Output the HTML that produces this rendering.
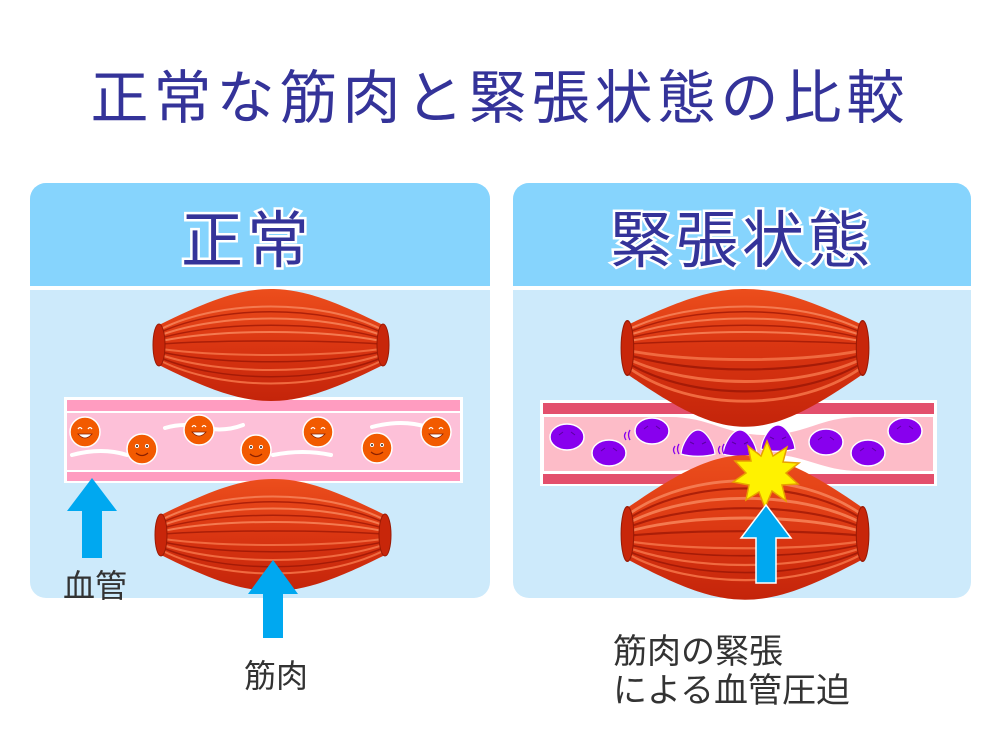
<!DOCTYPE html>
<html><head><meta charset="utf-8"><style>
html,body{margin:0;padding:0;background:#fff;}
svg{display:block;}
text{font-family:"Liberation Sans","Noto Sans CJK JP",sans-serif;}
</style></head><body>
<svg width="1000" height="750" viewBox="0 0 1000 750" xmlns="http://www.w3.org/2000/svg">
<defs>
  <linearGradient id="gu" x1="0" y1="0" x2="0" y2="1">
    <stop offset="0" stop-color="#ec4e1c"/>
    <stop offset="1" stop-color="#da3612"/>
  </linearGradient>
  <linearGradient id="gl" x1="0" y1="0" x2="0" y2="1">
    <stop offset="0" stop-color="#da3612"/>
    <stop offset="1" stop-color="#c4240a"/>
  </linearGradient>
  <g id="mup">
    <path d="M-112,-20 C-60,-46 -30,-56 0,-56 C30,-56 60,-46 112,-20 L112,0.5 L-112,0.5 Z" fill="url(#gu)"/>
    <g fill="none" stroke="#f47a50" stroke-width="2">
      <path d="M-110,-16 C-50,-46 50,-46 110,-16"/>
      <path d="M-110,-10 C-50,-32 50,-32 110,-10"/>
      <path d="M-110,-4 C-50,-16 50,-16 110,-4"/>
    </g>
    <g fill="none" stroke="#a01806" stroke-width="1.5" opacity="0.8">
      <path d="M-110,-13 C-50,-40 50,-40 110,-13"/>
      <path d="M-110,-7 C-50,-24 50,-24 110,-7"/>
      <path d="M-110,-1 C-50,-5 50,-5 110,-1"/>
    </g>
  </g>
  <g id="mlo">
    <path d="M-112,20 C-60,46 -30,56 0,56 C30,56 60,46 112,20 L112,-0.5 L-112,-0.5 Z" fill="url(#gl)"/>
    <g fill="none" stroke="#f06a40" stroke-width="2">
      <path d="M-110,16 C-50,46 50,46 110,16"/>
      <path d="M-110,10 C-50,30 50,30 110,10"/>
      <path d="M-110,4 C-50,12 50,12 110,4"/>
    </g>
    <g fill="none" stroke="#9a1606" stroke-width="1.5" opacity="0.8">
      <path d="M-110,13 C-50,38 50,38 110,13"/>
      <path d="M-110,7 C-50,20 50,20 110,7"/>
    </g>
  </g>
  <g id="caps">
    <ellipse cx="-112" cy="0" rx="6" ry="21" fill="#c8260a" stroke="#9a1a05"/>
    <ellipse cx="112" cy="0" rx="6" ry="21" fill="#c8260a" stroke="#9a1a05"/>
  </g>
  <g id="face">
    <circle r="15" fill="#f25a00" stroke="#fff" stroke-width="1.5"/>
    <path d="M-7,-3 q2,-3 4,0 M3,-3 q2,-3 4,0" stroke="#fff" fill="none" stroke-width="1.3"/>
    <path d="M-7,2 q7,8 14,0 z" fill="#fff" stroke="#8a2000" stroke-width="0.8"/>
  </g>
  <g id="face2">
    <circle r="15" fill="#f25a00" stroke="#fff" stroke-width="1.5"/>
    <circle cx="-5" cy="-3" r="2" fill="#fff"/><circle cx="5" cy="-3" r="2" fill="#fff"/>
    <circle cx="-5" cy="-3" r="1" fill="#222"/><circle cx="5" cy="-3" r="1" fill="#222"/>
    <path d="M-6,4 q6,5 12,0" stroke="#8a2000" fill="none" stroke-width="1.2"/>
  </g>
  <g id="cell">
    <ellipse rx="17" ry="13" fill="#8800ee" stroke="#fff" stroke-width="1.5"/>
    <path d="M-8,-2 l4,-3 M4,-5 l4,3" stroke="#5a00a0" stroke-width="1"/>
  </g>
  <g id="dome">
    <path d="M-17,10 C-16,0 -8,-14 0,-14 C8,-14 16,0 17,10 C8,13 -8,13 -17,10 Z" fill="#8800ee" stroke="#fff" stroke-width="1.2"/>
    <path d="M-8,-2 l4,2 M4,0 l4,-2" stroke="#5a00a0" stroke-width="1"/>
  </g>
</defs>

<text x="500" y="118" text-anchor="middle" font-size="58" fill="#343399" letter-spacing="5">正常な筋肉と緊張状態の比較</text>

<rect x="30" y="183" width="460" height="415" rx="16" fill="#cdeafb"/>
<path d="M30,199 a16,16 0 0 1 16,-16 h428 a16,16 0 0 1 16,16 v87 h-460z" fill="#86d4fd"/>
<rect x="30" y="286" width="460" height="4" fill="#fff"/>
<text x="247" y="262" text-anchor="middle" font-size="62" fill="#343399" stroke="#fff" stroke-width="5" paint-order="stroke" letter-spacing="4">正常</text>

<rect x="513" y="183" width="458" height="415" rx="16" fill="#cdeafb"/>
<path d="M513,199 a16,16 0 0 1 16,-16 h426 a16,16 0 0 1 16,16 v87 h-458z" fill="#86d4fd"/>
<rect x="513" y="286" width="458" height="4" fill="#fff"/>
<text x="742" y="262" text-anchor="middle" font-size="62" fill="#343399" stroke="#fff" stroke-width="5" paint-order="stroke" letter-spacing="4">緊張状態</text>

<rect x="64" y="397" width="399" height="86" fill="#fff"/>
<rect x="67" y="400" width="393" height="11" fill="#ff9cc0"/>
<rect x="67" y="413" width="393" height="57" fill="#fdc0d8"/>
<rect x="67" y="472" width="393" height="9" fill="#ff9cc0"/>
<g fill="none" stroke="#fff" stroke-width="4" stroke-linecap="round">
  <path d="M72,455 q30,-8 55,0"/>
  <path d="M165,428 q20,-6 40,0 q20,4 38,-3"/>
  <path d="M273,455 q30,-6 58,0"/>
  <path d="M372,427 q30,-8 55,0"/>
</g>
<use href="#face" x="85" y="432"/>
<use href="#face2" x="142" y="449"/>
<use href="#face" x="199" y="430"/>
<use href="#face2" x="256" y="450"/>
<use href="#face" x="318" y="432"/>
<use href="#face2" x="377" y="448"/>
<use href="#face" x="436" y="432"/>

<g transform="translate(271,345)"><use href="#mup"/><use href="#mlo"/><use href="#caps"/></g>
<g transform="translate(273,535)"><use href="#mup"/><use href="#mlo"/><use href="#caps"/></g>

<path d="M92,478 L117,511 L102,511 L102,558 L82,558 L82,511 L67,511 Z" fill="#00a8f0"/>
<path d="M273,560 L298,594 L283,594 L283,638 L263,638 L263,594 L248,594 Z" fill="#00a8f0"/>
<text x="95" y="597" text-anchor="middle" font-size="32" fill="#333">血管</text>
<text x="276" y="687" text-anchor="middle" font-size="32" fill="#333">筋肉</text>

<rect x="540" y="400" width="397" height="86" fill="#fff"/>
<rect x="543" y="403" width="391" height="11" fill="#e34f6c"/>
<rect x="543" y="474" width="391" height="10" fill="#e34f6c"/>
<path d="M543,416 H670 C710,416 725,434 765,434 C805,434 820,416 860,416 H934 V472 H860 C820,472 805,455 765,455 C725,455 710,472 670,472 H543 Z" fill="#fdbcc8" stroke="#fff" stroke-width="2"/>
<use href="#cell" x="567" y="437"/>
<use href="#cell" x="609" y="453"/>
<use href="#cell" x="652" y="431"/>
<use href="#dome" x="698" y="444"/>
<use href="#dome" x="740" y="444"/>
<use href="#dome" x="778" y="439"/>
<use href="#cell" x="826" y="442"/>
<use href="#cell" x="868" y="453"/>
<use href="#cell" x="905" y="431"/>
<g fill="none" stroke="#8800ee" stroke-width="1.3">
  <path d="M626,432 q-3,4 0,8 M630,430 q-3,5 0,10"/>
  <path d="M675,446 q-3,4 0,8 M679,444 q-3,5 0,10"/>
  <path d="M720,446 q-3,4 0,8 M724,444 q-3,5 0,10"/>
</g>

<g transform="translate(745,345)"><use href="#mup" transform="scale(1.05,1)"/><use href="#mlo" transform="scale(1.05,1.46)"/><use href="#caps" transform="translate(0,3) scale(1.05,1.3)"/></g>
<g transform="translate(745,537)"><use href="#mup" transform="scale(1.05,1.46)"/><use href="#mlo" transform="scale(1.05,1.12)"/><use href="#caps" transform="translate(0,-3) scale(1.05,1.3)"/></g>

<polygon points="767,441 773,456 787,447 783,462 799,463 786,473 798,484 782,485 786,501 772,491 765,508 759,492 746,500 749,485 733,482 746,473 735,461 751,461 748,446 761,456" fill="#fff200" stroke="#e8a000" stroke-width="1.5"/>

<path d="M766,505 L791,538 L776,538 L776,583 L756,583 L756,538 L741,538 Z" fill="#00a8f0" stroke="#fff" stroke-width="1.5"/>

<text x="613" y="663" font-size="34" fill="#333">筋肉の緊張</text>
<text x="613" y="702" font-size="34" fill="#333">による血管圧迫</text>
</svg>
</body></html>
